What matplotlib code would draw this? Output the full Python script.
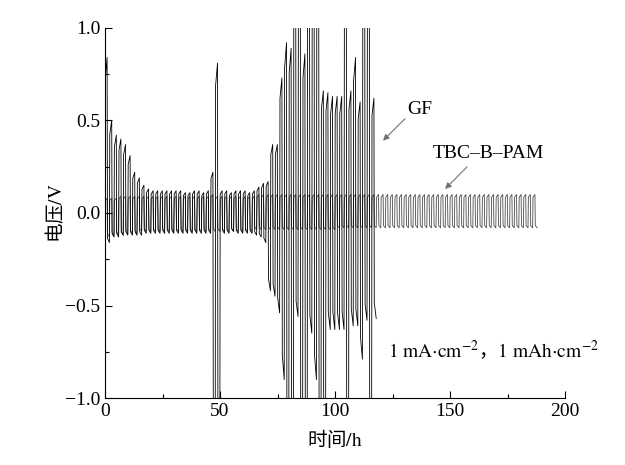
import matplotlib
matplotlib.use("Agg")
import matplotlib.pyplot as plt
from matplotlib.ticker import MultipleLocator

plt.rcParams['font.family'] = ['Liberation Serif']
plt.rcParams['mathtext.fontset'] = 'stix'
plt.rcParams['axes.unicode_minus'] = True

# per-cycle peak / trough voltage (V), 2 h per cycle (1 h charge + 1 h discharge)
gf_peak = [0.84, 0.50, 0.42, 0.40, 0.37, 0.31, 0.22, 0.19, 0.15, 0.13,
           0.12, 0.12, 0.12, 0.12, 0.12, 0.12, 0.12, 0.11, 0.11, 0.12,
           0.12, 0.11, 0.12, 0.22, 0.81, 0.12, 0.12, 0.11, 0.12, 0.12,
           0.12, 0.11, 0.12, 0.14, 0.16, 0.17, 0.37, 0.37, 0.73, 0.92,
           0.89, 1.30, 1.30, 0.86, 1.30, 1.30, 1.30, 0.66, 0.65, 0.63,
           0.63, 0.63, 1.30, 0.66, 0.84, 0.60, 1.30, 1.30, 0.62]
gf_trough = [-0.16, -0.13, -0.13, -0.12, -0.12, -0.12, -0.12, -0.12, -0.11, -0.11,
             -0.11, -0.11, -0.11, -0.11, -0.11, -0.11, -0.11, -0.11, -0.11, -0.11,
             -0.11, -0.11, -0.11, -1.30, -1.30, -0.11, -0.11, -0.10, -0.11, -0.11,
             -0.11, -0.11, -0.12, -0.13, -0.16, -0.42, -0.45, -0.54, -0.90, -1.30,
             -1.30, -0.56, -1.30, -1.30, -0.65, -0.90, -1.30, -1.30, -0.63, -0.63,
             -0.63, -0.63, -1.30, -0.61, -0.61, -0.79, -0.58, -1.30, -0.57]

tbc_peak = [0.08, 0.08, 0.08, 0.09, 0.09, 0.09, 0.09, 0.09, 0.09, 0.09,
            0.09, 0.09, 0.09, 0.09, 0.09, 0.09, 0.09, 0.09, 0.09, 0.09,
            0.09, 0.09, 0.09, 0.10, 0.09, 0.09, 0.09, 0.09, 0.09, 0.09,
            0.09, 0.09, 0.09, 0.10, 0.10, 0.10, 0.10, 0.10, 0.10, 0.10,
            0.10, 0.10, 0.10, 0.10, 0.10, 0.10, 0.10, 0.10, 0.10, 0.10,
            0.10, 0.10, 0.10, 0.10, 0.10, 0.10, 0.10, 0.10, 0.10, 0.10,
            0.10, 0.10, 0.10, 0.10, 0.10, 0.10, 0.10, 0.10, 0.10, 0.10,
            0.10, 0.10, 0.10, 0.10, 0.10, 0.10, 0.10, 0.10, 0.10, 0.10,
            0.10, 0.10, 0.10, 0.10, 0.10, 0.10, 0.10, 0.10, 0.10, 0.10,
            0.10, 0.10, 0.10, 0.10]
tbc_trough = [-0.13, -0.12, -0.12, -0.12, -0.11, -0.11, -0.11, -0.10, -0.10, -0.10,
              -0.10, -0.10, -0.10, -0.10, -0.10, -0.10, -0.10, -0.10, -0.10, -0.10,
              -0.10, -0.10, -0.10, -0.10, -0.10, -0.10, -0.10, -0.10, -0.10, -0.10,
              -0.10, -0.10, -0.09, -0.09, -0.09, -0.09, -0.09, -0.09, -0.09, -0.09,
              -0.09, -0.09, -0.09, -0.09, -0.09, -0.09, -0.09, -0.09, -0.09, -0.09,
              -0.08, -0.08, -0.08, -0.08, -0.08, -0.08, -0.08, -0.08, -0.08, -0.08,
              -0.08, -0.08, -0.08, -0.08, -0.08, -0.08, -0.08, -0.08, -0.08, -0.08,
              -0.08, -0.08, -0.08, -0.08, -0.08, -0.08, -0.08, -0.08, -0.08, -0.08,
              -0.08, -0.08, -0.08, -0.08, -0.08, -0.08, -0.08, -0.08, -0.08, -0.08,
              -0.08, -0.08, -0.08, -0.08]

x_ticks = [0, 50, 100, 150, 200]
y_ticks = [-1.0, -0.5, 0.0, 0.5, 1.0]


def cycle_curve(peaks, troughs, period=2.0):
    # turn per-cycle extremes into a near-square galvanostatic trace
    t, v = [0.0], [0.0]
    for i, (p, q) in enumerate(zip(peaks, troughs)):
        t0 = i * period
        t += [t0 + 0.08, t0 + 0.92, t0 + 1.08, t0 + 1.92]
        v += [0.85 * p, p, 0.85 * q, q]
    return t, v


fig = plt.figure(figsize=(6.25, 4.65), dpi=100)
ax = fig.add_axes([0.168, 0.144, 0.736, 0.796])

t_tbc, v_tbc = cycle_curve(tbc_peak, tbc_trough)
t_gf, v_gf = cycle_curve(gf_peak, gf_trough)
ax.plot(t_tbc, v_tbc, color='0.3', lw=0.6)
ax.plot(t_gf, v_gf, color='black', lw=0.6)

ax.set_xlim(0, 200)
ax.set_ylim(-1.0, 1.0)
ax.set_xticks(x_ticks)
ax.set_yticks(y_ticks)
ax.xaxis.set_minor_locator(MultipleLocator(25))
ax.yaxis.set_minor_locator(MultipleLocator(0.25))
ax.tick_params(which='both', direction='in', labelsize=14, width=0.8)
ax.tick_params(which='major', length=5)
ax.tick_params(which='minor', length=3)
for side in ['top', 'right']:
    ax.spines[side].set_visible(False)
for side in ['left', 'bottom']:
    ax.spines[side].set_linewidth(0.8)

cjk = 'Noto Sans CJK SC'
ax.set_xlabel(r'时间$/\mathrm{h}$', fontsize=14, family=cjk, labelpad=6)
ax.set_ylabel(r'电压$/\mathrm{V}$', fontsize=14, family=cjk, labelpad=-2)

arrow = dict(arrowstyle='-|>', color='0.45', lw=0.8, mutation_scale=9)
ax.annotate('', xy=(120, 0.38), xytext=(131.3, 0.52), arrowprops=arrow)
ax.text(137, 0.557, 'GF', fontsize=14, ha='center', va='center')
ax.annotate('', xy=(147, 0.119), xytext=(158.3, 0.26), arrowprops=arrow)
ax.text(166.5, 0.324, 'TBC–B–PAM', fontsize=14, ha='center', va='center')
ax.text(123, -0.74,
        r'$\mathrm{1\ mA{\cdot}cm^{-2}}$，$\mathrm{1\ mAh{\cdot}cm^{-2}}$',
        fontsize=14, family=cjk, ha='left', va='center')

fig.savefig('out.png', dpi=100)
